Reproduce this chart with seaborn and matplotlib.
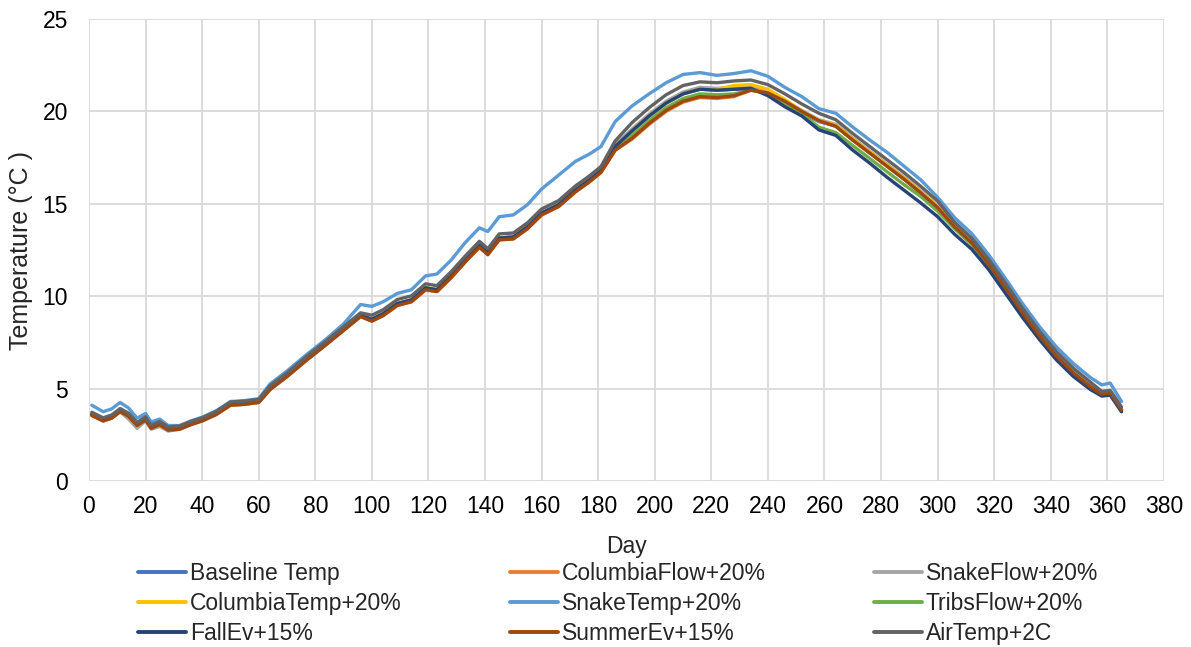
import pandas as pd
import matplotlib.pyplot as plt
import seaborn as sns

days = [1, 5, 8, 11, 14, 17, 20, 22, 25, 28,
        32, 36, 40, 45, 50, 55, 60, 64, 70, 77,
        84, 90, 96, 100, 104, 109, 114, 119, 123, 128,
        133, 138, 141, 145, 150, 155, 160, 166, 172, 177,
        181, 186, 192, 198, 204, 210, 216, 222, 228, 234,
        240, 246, 252, 258, 264, 270, 276, 282, 288, 294,
        300, 306, 312, 318, 324, 330, 336, 342, 348, 354,
        358, 361, 363, 365]

baseline = [3.6, 3.3, 3.45, 3.8, 3.55, 3.05, 3.35, 2.9, 3.1, 2.8,
            2.85, 3.1, 3.3, 3.65, 4.15, 4.2, 4.3, 5.0, 5.7, 6.6,
            7.45, 8.2, 8.95, 8.75, 9.05, 9.6, 9.8, 10.45, 10.35, 11.1,
            11.95, 12.75, 12.35, 13.15, 13.2, 13.75, 14.5, 14.95, 15.75, 16.3,
            16.8, 18.1, 18.95, 19.75, 20.45, 20.95, 21.2, 21.15, 21.2, 21.25,
            21.0, 20.5, 19.95, 19.45, 19.2, 18.45, 17.75, 17.05, 16.35, 15.6,
            14.8, 13.75, 12.9, 11.75, 10.45, 9.1, 7.85, 6.75, 5.85, 5.1,
            4.7, 4.75, 4.3, 3.85]

columbia_flow = [3.55, 3.25, 3.4, 3.75, 3.5, 3.0, 3.3, 2.85, 3.05, 2.75,
                 2.8, 3.05, 3.25, 3.6, 4.1, 4.15, 4.25, 4.95, 5.65, 6.55,
                 7.4, 8.15, 8.9, 8.65, 8.95, 9.5, 9.7, 10.35, 10.25, 11.0,
                 11.85, 12.65, 12.25, 13.05, 13.1, 13.65, 14.4, 14.85, 15.65, 16.2,
                 16.7, 17.9, 18.5, 19.3, 20.0, 20.5, 20.75, 20.7, 20.8, 21.15,
                 21.0, 20.55, 20.0, 19.5, 19.2, 18.45, 17.75, 17.05, 16.35, 15.6,
                 14.8, 13.75, 12.9, 11.75, 10.45, 9.1, 7.85, 6.75, 5.85, 5.1,
                 4.7, 4.75, 4.3, 3.85]

snake_flow = [3.55, 3.25, 3.4, 3.75, 3.35, 2.85, 3.25, 2.8, 2.95, 2.7,
              2.8, 3.05, 3.25, 3.6, 4.1, 4.15, 4.25, 4.95, 5.65, 6.55,
              7.4, 8.15, 8.9, 8.7, 9.0, 9.55, 9.75, 10.4, 10.3, 11.05,
              11.9, 12.7, 12.3, 13.1, 13.15, 13.7, 14.45, 14.9, 15.7, 16.25,
              16.75, 18.2, 19.05, 19.85, 20.55, 21.05, 21.3, 21.25, 21.3, 21.35,
              21.1, 20.6, 20.05, 19.55, 19.3, 18.55, 17.85, 17.15, 16.45, 15.7,
              14.9, 13.8, 12.95, 11.8, 10.5, 9.15, 7.9, 6.8, 5.9, 5.15,
              4.75, 4.8, 4.35, 3.9]

columbia_temp = [3.6, 3.3, 3.45, 3.8, 3.55, 3.05, 3.35, 2.9, 3.1, 2.8,
                 2.85, 3.1, 3.3, 3.65, 4.15, 4.2, 4.3, 5.0, 5.7, 6.6,
                 7.45, 8.2, 8.95, 8.75, 9.05, 9.6, 9.8, 10.45, 10.35, 11.1,
                 11.95, 12.75, 12.35, 13.15, 13.2, 13.75, 14.5, 14.95, 15.75, 16.3,
                 16.8, 18.1, 18.95, 19.75, 20.45, 20.95, 21.2, 21.2, 21.4, 21.45,
                 21.2, 20.65, 20.0, 19.5, 19.25, 18.5, 17.8, 17.1, 16.4, 15.65,
                 14.85, 13.75, 12.9, 11.75, 10.45, 9.1, 7.85, 6.75, 5.85, 5.1,
                 4.7, 4.75, 4.3, 3.85]

snake_temp = [4.1, 3.75, 3.9, 4.25, 3.95, 3.4, 3.65, 3.2, 3.35, 3.0,
              3.0, 3.25, 3.45, 3.8, 4.3, 4.35, 4.45, 5.25, 5.95, 6.85,
              7.7, 8.5, 9.55, 9.45, 9.7, 10.15, 10.35, 11.1, 11.2, 11.95,
              12.9, 13.7, 13.5, 14.3, 14.4, 14.95, 15.8, 16.55, 17.3, 17.7,
              18.1, 19.45, 20.3, 20.95, 21.55, 22.0, 22.1, 21.95, 22.05, 22.2,
              21.9, 21.3, 20.8, 20.15, 19.9, 19.15, 18.45, 17.8, 17.05, 16.3,
              15.35, 14.25, 13.4, 12.25, 10.95, 9.6, 8.35, 7.25, 6.35, 5.6,
              5.2, 5.3, 4.8, 4.3]

tribs_flow = [3.6, 3.3, 3.45, 3.8, 3.55, 3.05, 3.35, 2.9, 3.1, 2.8,
              2.85, 3.1, 3.3, 3.65, 4.15, 4.2, 4.3, 5.0, 5.7, 6.6,
              7.45, 8.2, 8.95, 8.75, 9.05, 9.6, 9.8, 10.45, 10.35, 11.1,
              11.95, 12.75, 12.35, 13.15, 13.2, 13.75, 14.5, 14.95, 15.75, 16.3,
              16.8, 18.1, 18.7, 19.5, 20.2, 20.7, 20.95, 20.9, 20.95, 21.15,
              20.95, 20.4, 19.85, 19.15, 18.85, 18.15, 17.45, 16.75, 16.05, 15.4,
              14.6, 13.65, 12.8, 11.65, 10.35, 9.0, 7.75, 6.65, 5.75, 5.0,
              4.6, 4.65, 4.2, 3.75]

fall_ev = [3.6, 3.3, 3.45, 3.8, 3.55, 3.05, 3.35, 2.9, 3.1, 2.8,
           2.85, 3.1, 3.3, 3.65, 4.15, 4.2, 4.3, 5.0, 5.7, 6.6,
           7.45, 8.2, 8.95, 8.75, 9.05, 9.6, 9.8, 10.45, 10.35, 11.1,
           11.95, 12.75, 12.35, 13.15, 13.2, 13.75, 14.5, 14.95, 15.75, 16.3,
           16.8, 18.1, 18.95, 19.75, 20.45, 20.95, 21.2, 21.15, 21.2, 21.25,
           20.85, 20.25, 19.75, 19.0, 18.7, 17.9, 17.2, 16.45, 15.75, 15.05,
           14.3, 13.35, 12.55, 11.45, 10.15, 8.85, 7.65, 6.55, 5.65, 4.95,
           4.6, 4.65, 4.2, 3.75]

summer_ev = [3.55, 3.25, 3.4, 3.75, 3.5, 3.0, 3.3, 2.85, 3.05, 2.75,
             2.8, 3.05, 3.25, 3.6, 4.1, 4.15, 4.25, 4.95, 5.65, 6.55,
             7.4, 8.15, 8.9, 8.65, 8.95, 9.5, 9.7, 10.35, 10.25, 11.0,
             11.85, 12.65, 12.25, 13.05, 13.1, 13.65, 14.4, 14.85, 15.65, 16.2,
             16.7, 17.9, 18.55, 19.35, 20.05, 20.55, 20.8, 20.75, 20.85, 21.15,
             21.0, 20.55, 20.0, 19.5, 19.2, 18.45, 17.75, 17.05, 16.35, 15.6,
             14.8, 13.75, 12.9, 11.75, 10.45, 9.1, 7.85, 6.75, 5.85, 5.1,
             4.7, 4.75, 4.3, 3.85]

air_temp = [3.72, 3.42, 3.57, 3.92, 3.67, 3.17, 3.47, 3.02, 3.22, 2.92,
            2.97, 3.22, 3.42, 3.77, 4.27, 4.32, 4.42, 5.15, 5.85, 6.75,
            7.6, 8.35, 9.1, 8.97, 9.27, 9.82, 10.02, 10.67, 10.57, 11.32,
            12.17, 12.97, 12.57, 13.37, 13.42, 13.97, 14.72, 15.17, 15.97, 16.52,
            17.02, 18.4, 19.4, 20.2, 20.9, 21.4, 21.6, 21.55, 21.65, 21.7,
            21.45, 20.95, 20.4, 19.9, 19.55, 18.8, 18.1, 17.4, 16.7, 15.95,
            15.15, 14.0, 13.15, 12.0, 10.7, 9.35, 8.1, 7.0, 6.1, 5.35,
            4.85, 4.9, 4.45, 4.0]

scenarios = ["Baseline Temp", "ColumbiaFlow+20%", "SnakeFlow+20%",
             "ColumbiaTemp+20%", "SnakeTemp+20%", "TribsFlow+20%",
             "FallEv+15%", "SummerEv+15%", "AirTemp+2C"]
colors = ["#4472C4", "#ED7D31", "#A5A5A5", "#FFC000", "#5B9BD5",
          "#70AD47", "#264478", "#9E480E", "#636363"]
series = [baseline, columbia_flow, snake_flow, columbia_temp, snake_temp,
          tribs_flow, fall_ev, summer_ev, air_temp]

frames = []
for name, vals in zip(scenarios, series):
    frames.append(pd.DataFrame({"Day": days, "Temp": vals, "Scenario": name}))
df = pd.concat(frames, ignore_index=True)

sns.set_theme(style="whitegrid")
plt.rcParams["font.family"] = ["Liberation Sans", "DejaVu Sans"]

fig = plt.figure(figsize=(11.91, 6.47), dpi=100)
ax = fig.add_axes([0.0747, 0.2566, 0.9026, 0.714])

sns.lineplot(data=df, x="Day", y="Temp", hue="Scenario", hue_order=scenarios,
             palette=colors, linewidth=2.4, sort=False, legend=False, ax=ax)

ax.set_xlim(0, 380)
ax.set_ylim(0, 25)
ax.set_xticks(range(0, 381, 20))
ax.set_yticks(range(0, 26, 5))
ax.grid(True, color="#D9D9D9", linewidth=1.3)
for s in ax.spines.values():
    s.set_visible(False)
ax.tick_params(length=0, labelsize=16.5, colors="#000000")
ax.tick_params(axis="x", pad=10)
ax.tick_params(axis="y", pad=15)
ax.set_xlabel("Day", fontsize=16.5, labelpad=12)
ax.set_ylabel("Temperature (°C )", fontsize=18, labelpad=7)

handles = [plt.Line2D([], [], color=c, linewidth=2.8) for c in colors]
order = [0, 3, 6, 1, 4, 7, 2, 5, 8]
fig.legend([handles[i] for i in order], [scenarios[i] for i in order],
           ncol=3, loc="upper left", bbox_to_anchor=(0.116, 0.0, 0.806, 0.131),
           mode="expand", frameon=False, fontsize=16.5, handlelength=2.1,
           handletextpad=0.15, labelspacing=0.3, borderpad=0, borderaxespad=0)

fig.savefig("out.png", dpi=100)
